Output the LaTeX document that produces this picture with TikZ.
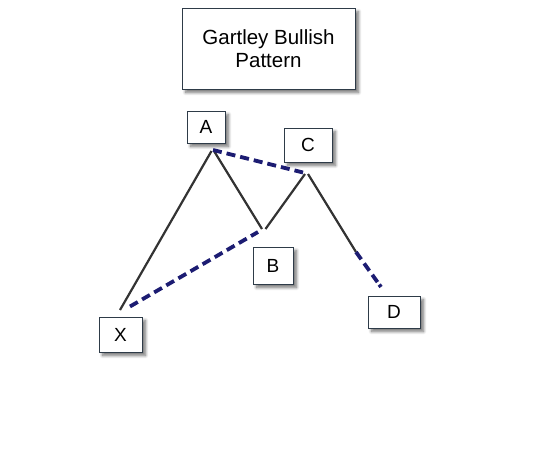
\documentclass[tikz,border=0pt]{standalone}
\usepackage{fontspec}
\setmainfont{Liberation Sans}
\usetikzlibrary{shadows.blur}
\definecolor{boxline}{HTML}{2E3B48}
\definecolor{navy}{HTML}{1C1C72}
\definecolor{leg}{HTML}{333333}
\begin{document}
\begin{tikzpicture}[x=1pt,y=-1pt,
  lbl/.style={draw=boxline, line width=0.9pt, fill=white, inner sep=0pt,
    blur shadow={shadow xshift=3.5pt, shadow yshift=-3.5pt, shadow blur steps=8, shadow blur radius=3pt, shadow opacity=55},
    font=\fontsize{19}{22}\selectfont},
  legline/.style={draw=leg, line width=2.2pt},
  dashline/.style={draw=navy, line width=3.8pt, dash pattern=on 9pt off 5pt}]
\useasboundingbox (0,0) rectangle (536,453);
\node[lbl, minimum width=173pt, minimum height=81pt, align=center,
  font=\fontsize{20.5}{23.5}\selectfont] (title) at (268.5,48.5) {Gartley Bullish\\Pattern};
\node[lbl, minimum width=38pt, minimum height=32pt] (A) at (206,127) {A};
\node[lbl, minimum width=48pt, minimum height=34pt] (C) at (308,145) {C};
\node[lbl, minimum width=40pt, minimum height=37pt] (B) at (273,265.5) {B};
\node[lbl, minimum width=43pt, minimum height=35pt] (X) at (120.5,334.5) {X};
\node[lbl, minimum width=52pt, minimum height=32pt] (D) at (394,312) {D};
% pivot points
\coordinate (xs) at (120,310);
\coordinate (as) at (211.5,151);
\coordinate (ab) at (214,151);
\coordinate (bs) at (262,229);
\coordinate (bc) at (265.5,229);
\coordinate (cs) at (305,174);
\coordinate (cd) at (308,174);
\coordinate (dm) at (356,252);
\coordinate (de) at (381,287);
\coordinate (xd) at (130,306.5);
\coordinate (bd) at (258,232);
\coordinate (ad) at (213,150);
\coordinate (cdd) at (303,172.5);
% legs
\draw[legline] (xs) -- (as);
\draw[legline] (ab) -- (bs);
\draw[legline] (bc) -- (cs);
\draw[legline] (cd) -- (dm);
% dashed
\draw[dashline] (xd) -- (bd);
\draw[dashline] (ad) -- (cdd);
\draw[dashline, dash pattern=on 9pt off 5pt on 9pt off 5pt on 9pt off 3pt] (dm) -- (de);
\end{tikzpicture}
\end{document}
